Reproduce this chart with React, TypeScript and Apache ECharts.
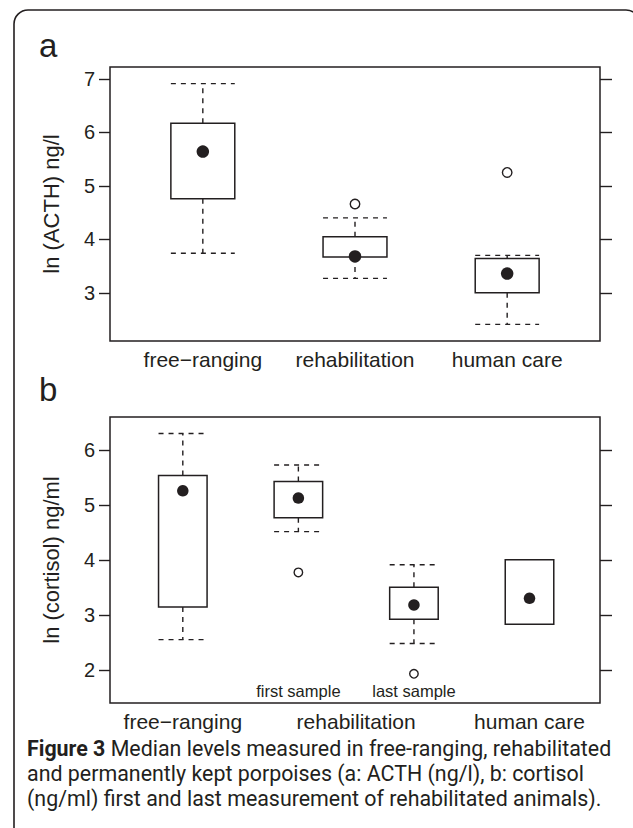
import React, { useEffect, useRef } from "react";
import * as echarts from "echarts";

// ---------- data ----------
const groupsA = ["free−ranging", "rehabilitation", "human care"];
const groupPosA = [1, 2, 3];
// [x, low whisker, Q1, median, Q3, high whisker]
const acthFree = [1, 3.74, 4.76, 5.64, 6.17, 6.91];
const acthRehab = [2, 3.27, 3.67, 3.68, 4.05, 4.4];
const acthHuman = [3, 2.41, 3.0, 3.36, 3.64, 3.7];
const acthOutliers = [
  [2, 4.66],
  [3, 5.25],
];
const ticksA = [3, 4, 5, 6, 7];

const groupsB = ["free−ranging", "rehabilitation", "human care"];
const groupPosB = [1, 2.5, 4];
const cortFree = [1, 2.56, 3.15, 5.26, 5.54, 6.3];
const cortFirst = [2, 4.52, 4.77, 5.13, 5.43, 5.73];
const cortLast = [3, 2.49, 2.93, 3.19, 3.51, 3.92];
const cortHuman = [4, 2.84, 2.84, 3.31, 4.01, 4.01];
const cortOutliers = [
  [2, 3.78],
  [3, 1.94],
];
const sampleLabels = [
  [2, 1.63, "first sample"],
  [3, 1.63, "last sample"],
];
const ticksB = [2, 3, 4, 5, 6];

const captionBold = "Figure 3";
const captionLines = [
  " Median levels measured in free-ranging, rehabilitated",
  "and permanently kept porpoises (a: ACTH (ng/l), b: cortisol",
  "(ng/ml) first and last measurement of rehabilitated animals).",
];

// ---------- styles ----------
const INK = "#231f20";
const FONT = "'Liberation Sans', Arial, sans-serif";
const CAP_FONT = "Roboto, 'Noto Sans', sans-serif";
const CAP_SIZE = 21.4;
const BOX_W = 0.42;

function renderBox(params: any, api: any) {
  const x = api.value(0);
  const lo = api.value(1);
  const q1 = api.value(2);
  const q3 = api.value(4);
  const hi = api.value(5);
  const half = api.size([BOX_W, 0])[0] / 2;
  const pLo = api.coord([x, lo]);
  const pQ1 = api.coord([x, q1]);
  const pQ3 = api.coord([x, q3]);
  const pHi = api.coord([x, hi]);
  const cx = pQ1[0];
  const dash = { stroke: INK, lineWidth: 1.4, lineDash: [5, 5], fill: "none" };
  const children: any[] = [];
  if (hi > q3) {
    children.push({ type: "line", shape: { x1: cx, y1: pQ3[1], x2: cx, y2: pHi[1] }, style: dash });
    children.push({ type: "line", shape: { x1: cx - half, y1: pHi[1], x2: cx + half, y2: pHi[1] }, style: dash });
  }
  if (lo < q1) {
    children.push({ type: "line", shape: { x1: cx, y1: pQ1[1], x2: cx, y2: pLo[1] }, style: dash });
    children.push({ type: "line", shape: { x1: cx - half, y1: pLo[1], x2: cx + half, y2: pLo[1] }, style: dash });
  }
  children.push({
    type: "rect",
    shape: { x: cx - half, y: pQ3[1], width: half * 2, height: pQ1[1] - pQ3[1] },
    style: { fill: "#fff", stroke: INK, lineWidth: 1.5 },
  });
  return { type: "group", children };
}

function renderLabel(params: any, api: any) {
  const p = api.coord([api.value(0), api.value(1)]);
  const item = sampleLabels[params.dataIndex];
  return {
    type: "text",
    x: p[0],
    y: p[1],
    style: {
      text: item[2] as string,
      align: "center",
      verticalAlign: "middle",
      font: `16.5px ${FONT}`,
      fill: INK,
    },
  };
}

function xAxisFor(grid: number, min: number, max: number, pos: number[], names: string[]) {
  return {
    gridIndex: grid,
    type: "value",
    min,
    max,
    splitLine: { show: false },
    axisLine: { show: false },
    axisTick: { show: false },
    axisLabel: {
      customValues: pos,
      formatter: (v: number) => names[pos.indexOf(v)] ?? "",
      fontSize: 21,
      fontFamily: FONT,
      color: INK,
      margin: 8,
    },
  };
}

function yAxisFor(grid: number, min: number, max: number, ticks: number[], right: boolean) {
  return {
    gridIndex: grid,
    type: "value",
    position: right ? "right" : "left",
    min,
    max,
    splitLine: { show: false },
    axisLine: { show: false },
    axisTick: {
      show: true,
      customValues: ticks,
      length: right ? 12 : 11,
      lineStyle: { color: INK, width: 1.4 },
    },
    axisLabel: {
      show: !right,
      customValues: ticks,
      fontSize: 20,
      fontFamily: FONT,
      color: INK,
      margin: 15,
    },
  };
}

export default function App() {
  const ref = useRef<HTMLDivElement>(null);

  useEffect(() => {
    document.body.style.margin = "0";
    const chart = echarts.init(ref.current!, null, { renderer: "svg" });
    const option: any = {
      animation: false,
      backgroundColor: "#fff",
      grid: [
        { left: 110, top: 67, width: 490, height: 274, show: true, borderColor: INK, borderWidth: 1.5, backgroundColor: "transparent" },
        { left: 110, top: 417, width: 490, height: 286, show: true, borderColor: INK, borderWidth: 1.5, backgroundColor: "transparent" },
      ],
      xAxis: [
        xAxisFor(0, 0.39, 3.61, groupPosA, groupsA),
        xAxisFor(1, 0.37, 4.61, groupPosB, groupsB),
      ],
      yAxis: [
        yAxisFor(0, 2.1, 7.22, ticksA, false),
        yAxisFor(0, 2.1, 7.22, ticksA, true),
        yAxisFor(1, 1.41, 6.6, ticksB, false),
        yAxisFor(1, 1.41, 6.6, ticksB, true),
      ],
      series: [
        {
          type: "custom",
          xAxisIndex: 0,
          yAxisIndex: 0,
          renderItem: renderBox,
          encode: { x: 0, y: [1, 2, 3, 4, 5] },
          data: [acthFree, acthRehab, acthHuman],
          z: 2,
        },
        {
          type: "scatter",
          xAxisIndex: 0,
          yAxisIndex: 0,
          symbolSize: 12.5,
          itemStyle: { color: INK, opacity: 1 },
          data: [acthFree, acthRehab, acthHuman].map((d) => [d[0], d[3]]),
          z: 3,
        },
        {
          type: "scatter",
          xAxisIndex: 0,
          yAxisIndex: 0,
          symbolSize: 9.5,
          itemStyle: { color: "#fff", borderColor: INK, borderWidth: 1.4, opacity: 1 },
          data: acthOutliers,
          z: 3,
        },
        {
          type: "custom",
          xAxisIndex: 1,
          yAxisIndex: 2,
          renderItem: renderBox,
          encode: { x: 0, y: [1, 2, 3, 4, 5] },
          data: [cortFree, cortFirst, cortLast, cortHuman],
          z: 2,
        },
        {
          type: "scatter",
          xAxisIndex: 1,
          yAxisIndex: 2,
          symbolSize: 11.5,
          itemStyle: { color: INK, opacity: 1 },
          data: [cortFree, cortFirst, cortLast, cortHuman].map((d) => [d[0], d[3]]),
          z: 3,
        },
        {
          type: "scatter",
          xAxisIndex: 1,
          yAxisIndex: 2,
          symbolSize: 8.5,
          itemStyle: { color: "#fff", borderColor: INK, borderWidth: 1.4, opacity: 1 },
          data: cortOutliers,
          z: 3,
        },
        {
          type: "custom",
          xAxisIndex: 1,
          yAxisIndex: 2,
          renderItem: renderLabel,
          encode: { x: 0, y: 1 },
          data: sampleLabels.map((d) => [d[0], d[1]]),
          z: 4,
        },
      ],
      graphic: [
        {
          type: "rect",
          shape: { x: 14, y: 10, width: 626, height: 900, r: 14 },
          style: { fill: "none", stroke: INK, lineWidth: 1.6 },
          silent: true,
        },
        { type: "text", x: 39, y: 45, style: { text: "a", font: `33px ${FONT}`, fill: INK, verticalAlign: "middle" } },
        { type: "text", x: 39, y: 389, style: { text: "b", font: `33px ${FONT}`, fill: INK, verticalAlign: "middle" } },
        {
          type: "text",
          x: 51,
          y: 204,
          rotation: Math.PI / 2,
          style: { text: "ln (ACTH) ng/l", font: `22px ${FONT}`, fill: INK, align: "center", verticalAlign: "middle" },
        },
        {
          type: "text",
          x: 51,
          y: 560,
          rotation: Math.PI / 2,
          style: { text: "ln (cortisol) ng/ml", font: `22px ${FONT}`, fill: INK, align: "center", verticalAlign: "middle" },
        },
        {
          type: "text",
          x: 27,
          y: 748,
          style: {
            text: `{b|${captionBold}}{r|${captionLines[0]}}`,
            verticalAlign: "middle",
            rich: {
              b: { font: `bold ${CAP_SIZE}px ${CAP_FONT}`, fill: INK },
              r: { font: `${CAP_SIZE}px ${CAP_FONT}`, fill: INK },
            },
          },
        },
        {
          type: "text",
          x: 27,
          y: 773,
          style: { text: captionLines[1], font: `${CAP_SIZE}px ${CAP_FONT}`, fill: INK, verticalAlign: "middle" },
        },
        {
          type: "text",
          x: 27,
          y: 798,
          style: { text: captionLines[2], font: `${CAP_SIZE}px ${CAP_FONT}`, fill: INK, verticalAlign: "middle" },
        },
      ],
    };
    chart.setOption(option);
    return () => chart.dispose();
  }, []);

  return <div ref={ref} style={{ width: 633, height: 828 }} />;
}
